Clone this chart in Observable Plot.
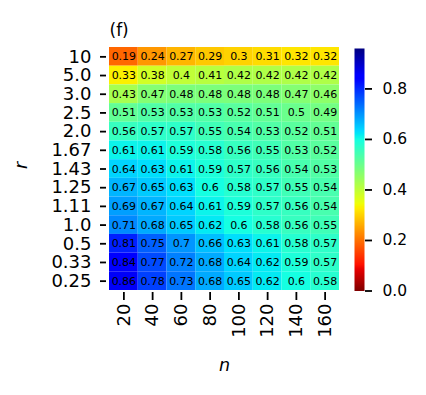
<!DOCTYPE html>
<html><head><meta charset="utf-8">
<script src="https://cdn.jsdelivr.net/npm/d3@7"></script>
<script src="https://cdn.jsdelivr.net/npm/@observablehq/plot@0.6"></script>
<style>
body{margin:0;background:#fff;font-family:"DejaVu Sans",sans-serif;}
#wrap{position:relative;width:426px;height:395px;}
#wrap svg{position:absolute;left:0;top:0;overflow:visible;}
</style></head><body>
<div id="wrap"></div>
<script>
const nValues = [20, 40, 60, 80, 100, 120, 140, 160];
const rLabels = ["10","5.0","3.0","2.5","2.0","1.67","1.43","1.25","1.11","1.0","0.5","0.33","0.25"];
const row10   = [0.19,0.24,0.27,0.29,0.3,0.31,0.32,0.32];
const row5    = [0.33,0.38,0.4,0.41,0.42,0.42,0.42,0.42];
const row3    = [0.43,0.47,0.48,0.48,0.48,0.48,0.47,0.46];
const row2_5  = [0.51,0.53,0.53,0.53,0.52,0.51,0.5,0.49];
const row2    = [0.56,0.57,0.57,0.55,0.54,0.53,0.52,0.51];
const row1_67 = [0.61,0.61,0.59,0.58,0.56,0.55,0.53,0.52];
const row1_43 = [0.64,0.63,0.61,0.59,0.57,0.56,0.54,0.53];
const row1_25 = [0.67,0.65,0.63,0.6,0.58,0.57,0.55,0.54];
const row1_11 = [0.69,0.67,0.64,0.61,0.59,0.57,0.56,0.54];
const row1    = [0.71,0.68,0.65,0.62,0.6,0.58,0.56,0.55];
const row0_5  = [0.81,0.75,0.7,0.66,0.63,0.61,0.58,0.57];
const row0_33 = [0.84,0.77,0.72,0.68,0.64,0.62,0.59,0.57];
const row0_25 = [0.86,0.78,0.73,0.68,0.65,0.62,0.6,0.58];
const rows = [row10,row5,row3,row2_5,row2,row1_67,row1_43,row1_25,row1_11,row1,row0_5,row0_33,row0_25];
const colorTicks = [0, 0.2, 0.4, 0.6, 0.8];
const vmin = 0, vmax = 0.96;

const data = [];
rows.forEach((row, i) => row.forEach((v, j) => data.push({r: rLabels[i], n: nValues[j], v})));

// matplotlib jet segment data
function seg(pts, x){
  for (let k=1;k<pts.length;k++){
    if (x <= pts[k][0]){
      const [x0,y0]=pts[k-1],[x1,y1]=pts[k];
      return y0 + (y1-y0)*(x-x0)/(x1-x0);
    }
  }
  return pts[pts.length-1][1];
}
const R=[[0,0],[0.35,0],[0.66,1],[0.89,1],[1,0.5]];
const G=[[0,0],[0.125,0],[0.375,1],[0.64,1],[0.91,0],[1,0]];
const B=[[0,0.5],[0.11,1],[0.34,1],[0.65,0],[1,0]];
function jet(t){t=Math.max(0,Math.min(1,t));
  return d3.rgb(255*seg(R,t),255*seg(G,t),255*seg(B,t)).formatHex();}
const jetR = t => jet(1 - t);
const colorOpts = {type:"linear", domain:[vmin, vmax], interpolate: jetR};

const font = "DejaVu Sans";
const main = Plot.plot({
  width: 426, height: 395,
  marginLeft: 109, marginRight: 87, marginTop: 47, marginBottom: 105,
  style: {fontFamily: font, background: "transparent"},
  x: {type:"band", domain: nValues, padding: 0, round: false, label: null},
  y: {type:"band", domain: rLabels, padding: 0, round: false, label: null},
  color: colorOpts,
  marks: [
    Plot.cell(data, {x:"n", y:"r", fill:"v", inset: 0}),
    Plot.text(data, {x:"n", y:"r", text: d => String(d.v), fill:"black", fontSize: 11}),
    Plot.axisX({tickRotate:-90, dy:2, tickSize:8, tickPadding:3, fontSize:18, strokeWidth:1.8, label:null}),
    Plot.axisY({dx:-3, tickSize:6, tickPadding:9, fontSize:18, strokeWidth:1.8, label:null}),
    Plot.text(["n"], {frameAnchor:"bottom", dy: 80, text: d=>d, fontSize:17.5, fontStyle:"italic"}),
    Plot.text(["r"], {frameAnchor:"left", dx: -88, rotate:-90, text: d=>d, fontSize:17.5, fontStyle:"italic"}),
    Plot.text(["(f)"], {frameAnchor:"top-left", dy: -12, lineAnchor:"bottom", text: d=>d, fontSize:17, textAnchor:"start"})
  ]
});
document.getElementById("wrap").appendChild(main);

const cbar = Plot.plot({
  width: 426, height: 395,
  marginLeft: 354, marginRight: 426-364, marginTop: 48, marginBottom: 395-290.5,
  style: {fontFamily: font, background: "transparent"},
  x: {domain:[0,1], axis:null},
  y: {domain:[vmin, vmax], label:null},
  color: colorOpts,
  marks: [
    Plot.raster({x1:0, x2:1, y1:vmin, y2:vmax, width:1, height:400, fill:(x,y)=>y, imageRendering:"auto"}),
    Plot.axisY({anchor:"right", ticks: colorTicks, tickFormat: d=>d.toFixed(1), tickSize:7, tickPadding:11, fontSize:15.5, strokeWidth:1.8, label:null})
  ]
});
document.getElementById("wrap").appendChild(cbar);
</script>
</body></html>
